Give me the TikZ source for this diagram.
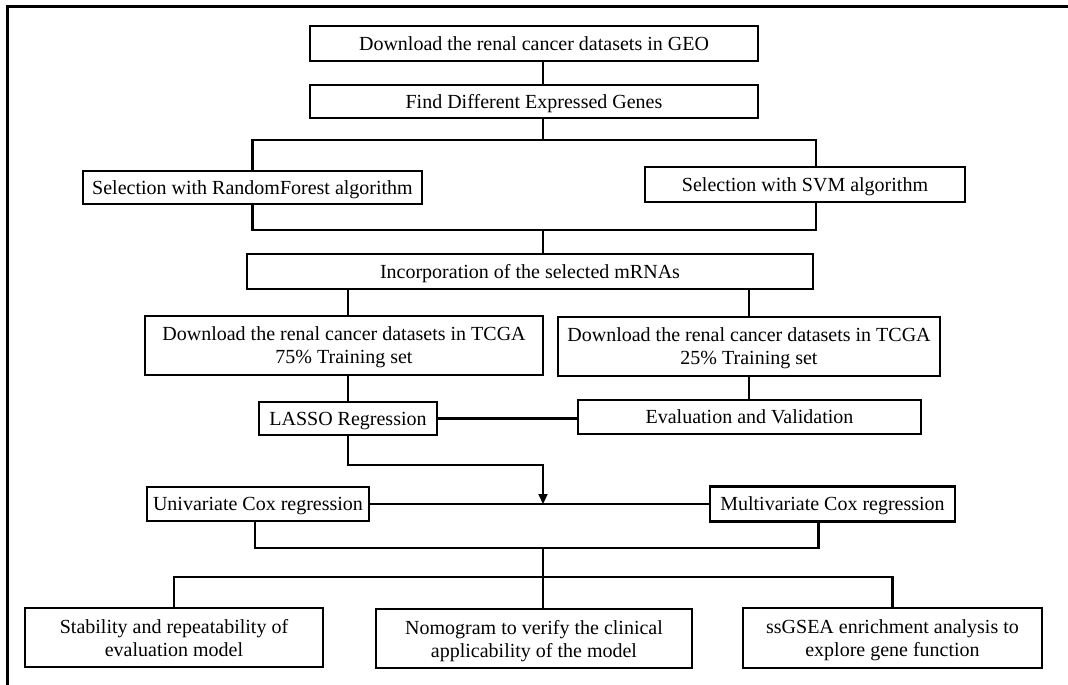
\documentclass[tikz,border=0pt]{standalone}
\usepackage{fontspec}
\setmainfont{Liberation Serif}
\usetikzlibrary{arrows.meta}
\begin{document}
\begin{tikzpicture}[x=1pt, y=-1pt,
    stepbox/.style={draw, line width=2.6pt, inner sep=0pt, align=center,
        text depth=-1pt, font=\fontsize{20}{23}\selectfont},
    link/.style={line width=2.2pt}]
    \useasboundingbox (0,0) rectangle (1068,685);
    % frame
    \draw[line width=3pt] (7,685) -- (7,7) -- (1068,7);

    % boxes
    \node[stepbox, minimum width=448, minimum height=35] (geo) at (534,43.5) {Download the renal cancer datasets in GEO};
    \node[stepbox, minimum width=448, minimum height=33] (deg) at (534,101.5) {Find Different Expressed Genes};
    \node[stepbox, minimum width=339, minimum height=33] (rf) at (252.5,187.5) {Selection with RandomForest algorithm};
    \node[stepbox, minimum width=320, minimum height=35] (svm) at (805,184.5) {Selection with SVM algorithm};
    \node[stepbox, minimum width=566, minimum height=35] (inc) at (530,271.5) {Incorporation of the selected mRNAs};
    \node[stepbox, minimum width=398, minimum height=59] (tr75) at (344,345.5) {Download the renal cancer datasets in TCGA\\75\% Training set};
    \node[stepbox, minimum width=382, minimum height=59] (tr25) at (749,346.5) {Download the renal cancer datasets in TCGA\\25\% Training set};
    \node[stepbox, minimum width=178, minimum height=33] (lasso) at (348,418.5) {LASSO Regression};
    \node[stepbox, minimum width=343, minimum height=34] (eval) at (749.5,417) {Evaluation and Validation};
    \node[stepbox, minimum width=222, minimum height=34] (uni) at (258,504) {Univariate Cox regression};
    \node[stepbox, minimum width=245, minimum height=35] (multi) at (832.5,504) {Multivariate Cox regression};
    \node[stepbox, minimum width=298, minimum height=59] (stab) at (174,637.5) {Stability and repeatability of\\evaluation model};
    \node[stepbox, minimum width=316, minimum height=59] (nomo) at (534,638.5) {Nomogram to verify the clinical\\applicability of the model};
    \node[stepbox, minimum width=299, minimum height=60] (ssg) at (892.5,638) {ssGSEA enrichment analysis to\\explore gene function};

    % junctions
    \coordinate (split1) at (543,140);
    \coordinate (join1) at (543,230);
    \coordinate (bend) at (543,465);
    \coordinate (join2) at (543,548);
    \coordinate (split2) at (543,577);

    % connectors
    \draw[link] ([xshift=9]geo.south) -- ([xshift=9]deg.north);
    \draw[link] ([xshift=9]deg.south) -- (split1);
    \draw[link] (rf.north) |- (split1) -| ([xshift=11]svm.north);
    \draw[link] (rf.south) |- (join1) -| ([xshift=11]svm.south);
    \draw[link] (join1) -- (join1 |- inc.north);
    \draw[link] (lasso |- inc.south) -- (lasso |- tr75.north);
    \draw[link] (tr25.north |- inc.south) -- (tr25.north);
    \draw[link] (lasso |- tr75.south) -- (lasso.north);
    \draw[link] (tr25.south) -- (tr25.south |- eval.north);
    \draw[link] (lasso.east) -- (lasso.east -| eval.west);
    \draw[link, -{Triangle[length=10pt, width=9pt]}] (lasso.south) |- (bend) -- (bend |- uni.east);
    \draw[link] (uni.east) -- (multi.west);
    \draw[link] ([xshift=-3]uni.south) |- (join2) -| ([xshift=-14]multi.south);
    \draw[link] (join2) -- (split2);
    \draw[link] (stab.north) |- (split2) -| (ssg.north);
    \draw[link] (split2) -- (split2 |- nomo.north);
\end{tikzpicture}
\end{document}
